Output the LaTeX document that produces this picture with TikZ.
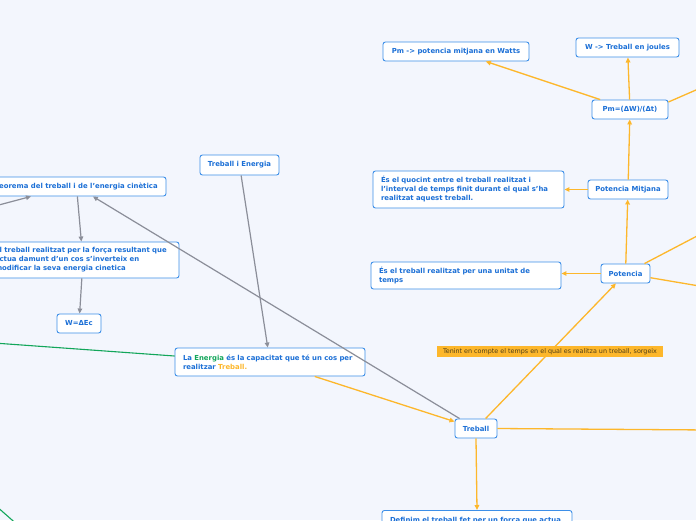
\documentclass[tikz,border=0pt]{standalone}
\usepackage{fontspec}
\setmainfont{DejaVu Sans}
\usetikzlibrary{arrows.meta,calc}
\definecolor{bgc}{HTML}{F3F6FD}
\definecolor{bdc}{HTML}{3D8FE8}
\definecolor{txc}{HTML}{1B6FD6}
\definecolor{orc}{HTML}{FDB72B}
\definecolor{grc}{HTML}{8B8E99}
\definecolor{gnc}{HTML}{12A65A}
\definecolor{lbc}{HTML}{4F3F18}
\tikzset{
  box/.style={draw=bdc, line width=0.9pt, fill=white, rounded corners=2.5pt, text=txc,
    font=\bfseries\fontsize{6.9}{9}\selectfont, inner xsep=8pt, inner ysep=2pt, minimum height=19pt},
  mbox/.style={box, align=left, text width=#1},
  lab/.style={fill=orc, text=lbc, font=\fontsize{6.4}{7}\selectfont, inner sep=1pt, minimum height=11pt},
  tip/.style={-{Triangle[length=5pt,width=4.5pt]}},
  oline/.style={draw=orc, line width=1.3pt, color=orc},
  gline/.style={draw=grc, line width=1.2pt, color=grc},
  nline/.style={draw=gnc, line width=1.1pt}
}
\begin{document}
\begin{tikzpicture}[x=1pt,y=-1pt]
\useasboundingbox (0,0) rectangle (696,520);
\fill[bgc] (0,0) rectangle (696,520);
\clip (0,0) rectangle (696,520);

% nodes
\node[box, minimum width=179pt] (teo) at (76.5,186.5) {Teorema del treball i de l'energia cinètica};
\node[mbox=176pt, minimum height=36pt] (elt) at (83,260) {El treball realitzat per la força resultant que\\actua damunt d'un cos s'inverteix en\\modificar la seva energia cinetica};
\node[box, minimum width=44pt, inner xsep=2pt] (wec) at (79,323.5) {W=ΔEc};
\node[box, minimum width=79pt, minimum height=20pt, inner xsep=2pt] (tie) at (239.5,165) {Treball i Energia};
\node[mbox=174pt, minimum height=28pt] (le) at (270,362) {La \textcolor{gnc}{Energia} és la capacitat que té un cos per\\realitzar \textcolor{orc}{Treball.}};
\node[box, minimum width=42pt, inner xsep=2pt] (tr) at (476,428.5) {Treball};
\node[mbox=174pt, anchor=north, inner ysep=7pt] (def) at (477,510) {Definim el treball fet per un força que actua};
\node[box, minimum width=49pt, inner xsep=2pt] (pot) at (625.5,273.5) {Potencia};
\node[mbox=174pt, minimum height=27pt] (et) at (466,275.5) {És el treball realitzat per una unitat de\\temps};
\node[box, minimum width=80pt, inner xsep=2pt] (pmi) at (628,189.5) {Potencia Mitjana};
\node[mbox=175pt, minimum height=37pt] (quo) at (468.5,189.5) {És el quocint entre el treball realitzat i\\l'interval de temps finit durant el qual s'ha\\realitzat aquest treball.};
\node[box, minimum width=76pt, inner xsep=2pt] (pmeq) at (630,109.5) {Pm=(ΔW)/(Δt)};
\node[box, minimum width=146pt, inner xsep=2pt] (pmw) at (456,51.5) {Pm -> potencia mitjana en Watts};
\node[box, minimum width=103pt, inner xsep=2pt] (wj) at (627.5,47.5) {W -> Treball en joules};

% free ends
\coordinate (gl1) at (-20,342);
\coordinate (gb1) at (-5,505);
\coordinate (gb2) at (20,527);
\coordinate (gyl) at (-20,210);
\coordinate (trr) at (710,430);
\coordinate (pr1) at (720,289.5);
\coordinate (pr2) at (720,224);
\coordinate (pmr) at (712,83);

% connectors
\draw[gline, tip] (tie) -- (le);
\draw[gline, tip] (tr) -- (teo);
\draw[gline, tip] (teo) -- (elt);
\draw[gline, tip] (elt) -- (wec);
\draw[gline, tip] (gyl) -- ($(teo.south)+(-45.5,0)$);
\draw[nline] (gl1) -- ($(le.west)+(0,-6)$);
\draw[nline] (gb1) -- (gb2);
\draw[oline, tip] (le) -- (tr);
\draw[oline, tip] (tr) -- (pot);
\draw[oline] (tr.east) -- (trr);
\draw[oline, tip] (tr.south) -- (def.north);
\draw[oline] (pot) -- (pr1);
\draw[oline] (pot) -- (pr2);
\draw[oline, tip] (pot.west) -- (et.east |- pot.west);
\draw[oline, tip] (pot) -- (pmi);
\draw[oline, tip] (pmi.west) -- (quo.east |- pmi.west);
\draw[oline, tip] (pmi) -- (pmeq);
\draw[oline, tip] (pmeq) -- (pmw);
\draw[oline, tip] (pmeq) -- (wj);
\draw[oline] ($(pmeq.east)+(0,-7.5)$) -- (pmr);

\node[lab, minimum width=226pt] (ten) at (550,351.5) {Tenint en compte el temps en el qual es realitza un treball, sorgeix};
\end{tikzpicture}
\end{document}
